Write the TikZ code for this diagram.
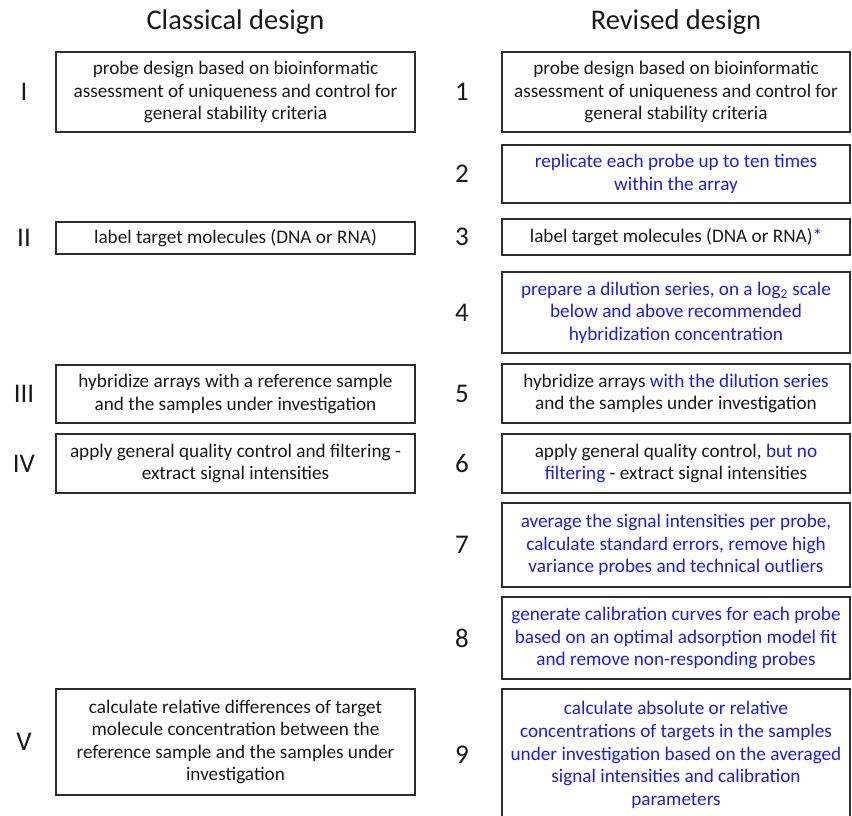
\documentclass[tikz,border=0pt]{standalone}
\usepackage{fontspec}
\setmainfont{Carlito}
\usepackage{xcolor}
\usepackage{tikz}
\usetikzlibrary{positioning}

\definecolor{revblue}{RGB}{30,30,215}
\definecolor{boxgray}{RGB}{45,45,45}
\definecolor{txtgray}{RGB}{25,25,25}

\begin{document}
\begin{tikzpicture}[x=1pt,y=-1pt]
            \tikzset{box/.style = {draw=boxgray, line width=1.2pt, align=center, inner sep=0pt, text=txtgray, font=\fontsize{19.2}{22.6}\selectfont}}
            \tikzset{num/.style = {text=txtgray, font=\fontsize{27}{30}\selectfont}}
            \tikzset{head/.style = {text=txtgray, font=\fontsize{28.5}{32}\selectfont}}
            \tikzset{new/.style = {text=revblue}}
            \useasboundingbox (0,0) rectangle (852,816);

            % headings
            \node[head] (hcl) at (235.5,22) {Classical design};
            \node[head] (hre) at (676,22) {Revised design};

            % classical steps
            \node[box, minimum width=359pt, minimum height=80pt] (c1) at (235.5,92) {probe design based on bioinformatic\\assessment of uniqueness and control for\\general stability criteria};
            \node[box, minimum width=359pt, minimum height=32pt] (c2) at (235.5,238) {label target molecules (DNA or RNA)};
            \node[box, minimum width=359pt, minimum height=58pt] (c3) at (235.5,394) {hybridize arrays with a reference sample\\and the samples under investigation};
            \node[box, minimum width=359pt, minimum height=59pt] (c4) at (235.5,463.5) {apply general quality control and filtering -\\extract signal intensities};
            \node[box, minimum width=359pt, minimum height=106pt] (c5) at (235.5,742) {calculate relative differences of target\\molecule concentration between the\\reference sample and the samples under\\investigation};

            % revised steps
            \node[box, minimum width=348pt, minimum height=80pt] (r1) at (676,92) {probe design based on bioinformatic\\assessment of uniqueness and control for\\general stability criteria};
            \node[box, new, minimum width=348pt, minimum height=58pt] (r2) at (676,174) {replicate each probe up to ten times\\within the array};
            \node[box, minimum width=348pt, minimum height=36pt] (r3) at (676,237) {label target molecules (DNA or RNA)\textcolor{revblue}{*}};
            \node[box, new, minimum width=348pt, minimum height=81pt] (r4) at (676,312.5) {prepare a dilution series, on a log\textsubscript{2} scale\\below and above recommended\\hybridization concentration};
            \node[box, minimum width=348pt, minimum height=59pt] (r5) at (676,393.5) {hybridize arrays \textcolor{revblue}{with the dilution series}\\and the samples under investigation};
            \node[box, minimum width=348pt, minimum height=59pt] (r6) at (676,463.5) {apply general quality control, \textcolor{revblue}{but no}\\\textcolor{revblue}{filtering} - extract signal intensities};
            \node[box, new, minimum width=348pt, minimum height=84pt] (r7) at (676,545) {average the signal intensities per probe,\\calculate standard errors, remove high\\variance probes and technical outliers};
            \node[box, new, minimum width=348pt, minimum height=82pt] (r8) at (676,638) {generate calibration curves for each probe\\based on an optimal adsorption model fit\\and remove non-responding probes};
            \node[box, new, minimum width=348pt, minimum height=132pt] (r9) at (676,755) {calculate absolute or relative\\concentrations of targets in the samples\\under investigation based on the averaged\\signal intensities and calibration\\parameters};

            % step numbers
            \foreach \n/\t in {1/I,2/II,3/III,4/IV,5/V}
            {
              \node[num] (cn\n) at (24,0 |- c\n) {\t};
            }
            \foreach \n in {1,...,9}
            {
              \node[num] (rn\n) at (462,0 |- r\n) {\n};
            }

          \end{tikzpicture}
\end{document}
